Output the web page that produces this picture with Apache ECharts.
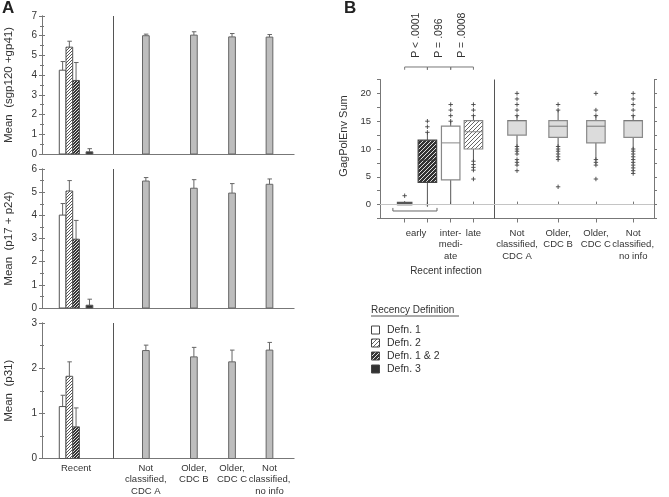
<!DOCTYPE html>
<html>
<head>
<meta charset="utf-8">
<script src="https://cdn.jsdelivr.net/npm/echarts@6/dist/echarts.min.js"></script>
<style>
  html, body { margin: 0; padding: 0; background: #fff; }
  #main { width: 669px; height: 497px; }
</style>
</head>
<body>
<div id="main"></div>
<script>
// ---- data ----
const defNames = ['Defn. 1', 'Defn. 2', 'Defn. 1 & 2', 'Defn. 3'];
const groupLabels = ['Recent', 'Not\nclassified,\nCDC A', 'Older,\nCDC B', 'Older,\nCDC C', 'Not\nclassified,\nno info'];
const boxLabels = ['early', 'inter-\nmedi-\nate', 'late', 'Not\nclassified,\nCDC A', 'Older,\nCDC B', 'Older,\nCDC C', 'Not\nclassified,\nno info'];
const yNames = ['Mean  (sgp120 +gp41)', 'Mean  (p17 + p24)', 'Mean  (p31)'];
const yMax = [7, 6, 3];

// recent group means per definition (Defn 1, 2, 1&2, 3) and top of error bar
const sgpMean = [4.25, 5.42, 3.73, 0.11];
const sgpErr  = [4.69, 5.72, 4.64, 0.27];
const p24Mean = [4.01, 5.05, 2.97, 0.12];
const p24Err  = [4.51, 5.50, 3.78, 0.38];
const p31Mean = [1.15, 1.82, 0.70, 0];
const p31Err  = [1.40, 2.14, 1.12, 0];
// older / not classified groups
const oldSgpMean = [6.00, 6.03, 5.94, 5.93];
const oldSgpErr  = [6.08, 6.20, 6.11, 6.06];
const oldP24Mean = [5.48, 5.17, 4.96, 5.34];
const oldP24Err  = [5.63, 5.54, 5.37, 5.57];
const oldP31Mean = [2.39, 2.25, 2.14, 2.40];
const oldP31Err  = [2.51, 2.46, 2.40, 2.57];

// panel B boxes: [low whisker, q1, median, q3, high whisker]
// recent order: Defn 3 (early), Defn 1&2 (early), Defn 1 (intermediate), Defn 2 (late)
const recentBox = [
  [0, 0, 0, 0.4, 0.6],
  [0, 4.0, 8.0, 11.6, 13.0],
  [0, 4.45, 11.1, 14.1, 15.0],
  [7.8, 10.0, 13.1, 15.1, 16.0]
];
const recentOut = [
  [1.6],
  [0, 13, 14, 15],
  [15, 16, 17, 18],
  [16, 17, 18, 7.8, 7.2, 6.7, 6.2, 4.6]
];
const olderBox = [
  [10.45, 12.5, 15.1, 15.1, 16.0],
  [10.45, 12.1, 14.1, 15.1, 17.0],
  [8.1, 11.1, 14.1, 15.1, 16.0],
  [10.0, 12.1, 15.1, 15.1, 16.0]
];
const olderOut = [
  [16, 17, 18, 19, 20, 10.45, 10.0, 9.6, 9.1, 8.1, 7.6, 7.1, 6.1],
  [17, 18, 10.45, 10.0, 9.6, 9.1, 8.6, 8.1, 3.2],
  [16, 17, 20, 8.1, 7.6, 7.1, 4.6],
  [16, 17, 18, 19, 20, 10.0, 9.6, 9.1, 8.6, 8.1, 7.6, 7.1, 6.6, 6.1, 5.6]
];
const pLabels = ['P < .0001', 'P = .096', 'P = .0008'];

// ---- layout ----
const aPos = [1.0, 3.05, 4.46, 5.58, 6.68];   // group centres, panel A x units
const aDiv = 2.09;
const recentSlot = [-2, -1, 0, 2];             // bar slot of each definition within "Recent"
const BAR_W = 0.197;
const bPos = [0.9, 1.73, 2.58, 3.41, 5.0, 6.5, 7.88, 9.24];
const bDiv = 4.16;
const BOX_W = 0.675;
const bLabelPos = [(bPos[0] + bPos[1]) / 2].concat(bPos.slice(2));
const FONT = 'Liberation Sans, Arial, sans-serif';
const TXT = '#333';

function hatch(bg, fg, n) {
  const c = document.createElement('canvas');
  c.width = n; c.height = n;
  const g = c.getContext('2d');
  g.fillStyle = bg; g.fillRect(0, 0, n, n);
  g.fillStyle = fg;
  for (let i = 0; i < n; i++) g.fillRect(i, n - 1 - i, 1, 1);
  return { image: c, repeat: 'repeat' };
}
const fillsA = ['#fff', hatch('#fff', '#555', 3), hatch('#333', '#ddd', 3), '#333'];
const fillsB = ['#fff', hatch('#fff', '#666', 4), hatch('#333', '#ddd', 4), '#333'];

function nearest(arr, v) {
  let k = 0;
  arr.forEach((a, i) => { if (Math.abs(a - v) < Math.abs(arr[k] - v)) k = i; });
  return k;
}

function barRender(fill, stroke) {
  return function (params, api) {
    const x = api.value(0) + api.value(3) * BAR_W;
    const y = api.value(1), e = api.value(2);
    if (!(y > 0)) return null;
    const p0 = api.coord([x - BAR_W / 2, y]);
    const p1 = api.coord([x + BAR_W / 2, 0]);
    const c0 = api.coord([x, y]);
    const c1 = api.coord([x, e]);
    const ls = { stroke: '#666', lineWidth: 1 };
    return {
      type: 'group',
      children: [
        { type: 'line', shape: { x1: c0[0], y1: c0[1], x2: c1[0], y2: c1[1] }, style: ls },
        { type: 'line', shape: { x1: c1[0] - 2, y1: c1[1], x2: c1[0] + 2.5, y2: c1[1] }, style: ls },
        { type: 'rect', shape: { x: p0[0], y: p0[1], width: p1[0] - p0[0], height: p1[1] - p0[1] },
          style: { fill: fill, stroke: stroke, lineWidth: 1 } }
      ]
    };
  };
}

function boxRender(fill, stroke, medColor, widthScale) {
  return function (params, api) {
    const x = api.value(0);
    const w = BOX_W * (widthScale || 1);
    const lo = api.coord([x, api.value(1)]);
    const q1 = api.coord([x, api.value(2)]);
    const md = api.coord([x, api.value(3)]);
    const q3 = api.coord([x, api.value(4)]);
    const hi = api.coord([x, api.value(5)]);
    const l = api.coord([x - w / 2, 0])[0];
    const r = api.coord([x + w / 2, 0])[0];
    const ws = { stroke: '#555', lineWidth: 1 };
    return {
      type: 'group',
      children: [
        { type: 'line', shape: { x1: lo[0], y1: lo[1], x2: q1[0], y2: q1[1] }, style: ws },
        { type: 'line', shape: { x1: q3[0], y1: q3[1], x2: hi[0], y2: hi[1] }, style: ws },
        { type: 'rect', shape: { x: l, y: q3[1], width: r - l, height: Math.max(q1[1] - q3[1], 1.5) },
          style: { fill: fill, stroke: stroke, lineWidth: 1.2 } },
        { type: 'line', shape: { x1: l, y1: md[1], x2: r, y2: md[1] }, style: { stroke: medColor, lineWidth: 1 } }
      ]
    };
  };
}

function plusRender(params, api) {
  const p = api.coord([api.value(0), api.value(1)]);
  const s = { stroke: '#444', lineWidth: 0.9 };
  return {
    type: 'group',
    children: [
      { type: 'line', shape: { x1: p[0] - 2.2, y1: p[1], x2: p[0] + 2.2, y2: p[1] }, style: s },
      { type: 'line', shape: { x1: p[0], y1: p[1] - 2.2, x2: p[0], y2: p[1] + 2.2 }, style: s }
    ]
  };
}

// brackets above panel B and under the early boxes
const BR_Y = 24.75, BR_TICK = 24.25, P_TXT_Y = 26.4;
function bracketRender(params, api) {
  const i = params.dataIndex;
  const a = api.coord([api.value(0), BR_Y]);
  const b = api.coord([api.value(1), BR_Y]);
  const t = api.coord([api.value(0), BR_TICK]);
  const m = api.coord([(api.value(0) + api.value(1)) / 2, P_TXT_Y]);
  const s = { stroke: '#777', lineWidth: 1 };
  return {
    type: 'group',
    children: [
      { type: 'line', shape: { x1: a[0], y1: a[1], x2: b[0], y2: b[1] }, style: s },
      { type: 'line', shape: { x1: a[0], y1: a[1], x2: a[0], y2: t[1] }, style: s },
      { type: 'line', shape: { x1: b[0], y1: b[1], x2: b[0], y2: t[1] }, style: s },
      { type: 'text', x: m[0], y: m[1], rotation: Math.PI / 2,
        style: { text: pLabels[i], fill: TXT, font: '10.5px ' + FONT, align: 'left', verticalAlign: 'middle' } }
    ]
  };
}
function earlyBracketRender(params, api) {
  const a = api.coord([api.value(0), -1.15]);
  const b = api.coord([api.value(1), -1.15]);
  const t = api.coord([0, -0.6]);
  const s = { stroke: '#666', lineWidth: 1 };
  return {
    type: 'group',
    children: [
      { type: 'line', shape: { x1: a[0], y1: a[1], x2: b[0], y2: b[1] }, style: s },
      { type: 'line', shape: { x1: a[0], y1: a[1], x2: a[0], y2: t[1] }, style: s },
      { type: 'line', shape: { x1: b[0], y1: b[1], x2: b[0], y2: t[1] }, style: s }
    ]
  };
}

// ---- axes ----
const grids = [
  { left: 42, width: 252, top: 16, height: 138 },
  { left: 42, width: 252, top: 169, height: 139 },
  { left: 42, width: 252, top: 323, height: 139 },
  { left: 380, width: 274, top: 79.5, height: 139 }
];
const frame = '#777';
const xAxes = [], yAxes = [];
for (let g = 0; g < 3; g++) {
  xAxes.push({
    gridIndex: g, type: 'value', min: 0, max: 7.4, position: 'bottom',
    axisLine: { show: true, onZero: false, lineStyle: { color: '#c4c4c4' } },
    axisTick: { show: false }, splitLine: { show: false }, axisLabel: { show: false }
  });
  xAxes.push({
    gridIndex: g, type: 'value', min: 0, max: 7.4, position: 'top',
    axisLine: { show: true, lineStyle: { color: frame } },
    axisTick: { show: true, customValues: aPos, length: 3, lineStyle: { color: frame } },
    splitLine: { show: false }, axisLabel: { show: false }
  });
  const yBase = {
    gridIndex: g, type: 'value', min: 0, max: yMax[g], interval: 1,
    axisLine: { show: true, lineStyle: { color: frame } },
    axisTick: { show: true, length: 3, lineStyle: { color: frame } },
    minorTick: { show: true, splitNumber: 2, length: 2, lineStyle: { color: frame } },
    splitLine: { show: false }
  };
  yAxes.push(Object.assign({}, yBase, {
    position: 'left',
    axisLabel: { color: TXT, fontSize: 10, fontFamily: FONT, margin: 5 },
    name: yNames[g], nameLocation: 'middle', nameGap: 27,
    nameTextStyle: { color: TXT, fontSize: 11.5, fontFamily: FONT }
  }));
  yAxes.push(Object.assign({}, yBase, { position: 'right', axisLabel: { show: false } }));
}
// panel B
xAxes.push({
  gridIndex: 3, type: 'value', min: 0, max: 10, position: 'bottom',
  axisLine: { show: true, onZero: false, lineStyle: { color: frame } },
  axisTick: { show: true, customValues: bPos, length: 4, lineStyle: { color: frame } },
  splitLine: { show: false },
  axisLabel: {
    show: true, customValues: bLabelPos, margin: 9, color: TXT, fontSize: 9.5, fontFamily: FONT, lineHeight: 11.5,
    showMinLabel: true, showMaxLabel: true, hideOverlap: false,
    formatter: v => boxLabels[nearest(bLabelPos, v)]
  }
});
xAxes.push({
  gridIndex: 3, type: 'value', min: 0, max: 10, position: 'top',
  axisLine: { show: true, lineStyle: { color: frame } },
  axisTick: { show: true, customValues: bPos, length: 3, lineStyle: { color: frame } },
  splitLine: { show: false }, axisLabel: { show: false }
});
// panel A category labels, split over two label-only axes so none get hidden as overlapping
[[0, 2, 4], [1, 3]].forEach(set => {
  const vals = set.map(k => aPos[k]);
  xAxes.push({
    gridIndex: 2, type: 'value', min: 0, max: 7.4, position: 'bottom',
    axisLine: { show: false }, axisTick: { show: false }, splitLine: { show: false },
    axisLabel: {
      show: true, customValues: vals, margin: 4, color: TXT, fontSize: 9.5, fontFamily: FONT, lineHeight: 11.5,
      showMinLabel: true, showMaxLabel: true,
      formatter: v => groupLabels[nearest(aPos, v)]
    }
  });
});
const yB = {
  gridIndex: 3, type: 'value', min: -2.5, max: 22.5, interval: 2.5,
  axisLine: { show: true, onZero: false, lineStyle: { color: frame } },
  axisTick: { show: true, length: 3, lineStyle: { color: frame } },
  splitLine: { show: false }
};
yAxes.push(Object.assign({}, yB, {
  position: 'left',
  axisLabel: { color: TXT, fontSize: 9.5, fontFamily: FONT, margin: 9,
    formatter: v => (v >= 0 && v % 5 === 0) ? String(v) : '' },
  name: 'GagPolEnv Sum', nameLocation: 'middle', nameGap: 31,
  nameTextStyle: { color: TXT, fontSize: 11, fontFamily: FONT, padding: [0, 0, 0, 26] }
}));
yAxes.push(Object.assign({}, yB, { position: 'right', axisLabel: { show: false } }));

// ---- series ----
const series = [];
const recentMeans = [[sgpMean, sgpErr], [p24Mean, p24Err], [p31Mean, p31Err]];
const olderMeans = [[oldSgpMean, oldSgpErr], [oldP24Mean, oldP24Err], [oldP31Mean, oldP31Err]];
for (let g = 0; g < 3; g++) {
  defNames.forEach((name, d) => {
    series.push({
      type: 'custom', name: name, xAxisIndex: g * 2, yAxisIndex: g * 2,
      renderItem: barRender(fillsA[d], '#555'),
      data: [[aPos[0], recentMeans[g][0][d], recentMeans[g][1][d], recentSlot[d]]]
    });
  });
  series.push({
    type: 'custom', name: 'older', xAxisIndex: g * 2, yAxisIndex: g * 2,
    renderItem: barRender('#bdbdbd', '#666'),
    data: olderMeans[g][0].map((m, k) => [aPos[k + 1], m, olderMeans[g][1][k], 0]),
    markLine: {
      silent: true, symbol: 'none', label: { show: false },
      lineStyle: { color: '#555', type: 'solid', width: 1 },
      data: [{ xAxis: aDiv }]
    }
  });
}
// panel B boxes
const recentBoxDef = [3, 2, 0, 1]; // definition index of each recent box
const boxStroke = ['#888', '#888', '#444', '#555'];
const medColor = ['#888', '#888', '#333', '#555'];
recentBox.forEach((b, i) => {
  const d = recentBoxDef[i];
  series.push({
    type: 'custom', name: defNames[d], xAxisIndex: 6, yAxisIndex: 6,
    renderItem: boxRender(d === 3 ? '#555' : fillsB[d], boxStroke[d], medColor[d], d === 3 ? 0.78 : 1),
    data: [[bPos[i]].concat(b)]
  });
});
series.push({
  type: 'custom', name: 'older', xAxisIndex: 6, yAxisIndex: 6,
  renderItem: boxRender('#dcdcdc', '#8a8a8a', '#777'),
  data: olderBox.map((b, k) => [bPos[k + 4]].concat(b)),
  markLine: {
    silent: true, symbol: 'none', label: { show: false },
    data: [
      { xAxis: bDiv, lineStyle: { color: '#555', type: 'solid', width: 1 } },
      { yAxis: 0, lineStyle: { color: '#c4c4c4', type: 'solid', width: 1.2 } }
    ]
  }
});
const outPts = [];
recentOut.forEach((arr, i) => arr.forEach(v => outPts.push([bPos[i], v])));
olderOut.forEach((arr, k) => arr.forEach(v => outPts.push([bPos[k + 4], v])));
series.push({ type: 'custom', name: 'outliers', xAxisIndex: 6, yAxisIndex: 6, renderItem: plusRender, data: outPts });
series.push({
  type: 'custom', name: 'p', xAxisIndex: 6, yAxisIndex: 6, clip: false, renderItem: bracketRender,
  data: [[bPos[0], bPos[1]], [bPos[1], bPos[2]], [bPos[2], bPos[3]]]
});
series.push({
  type: 'custom', name: 'early', xAxisIndex: 6, yAxisIndex: 6, renderItem: earlyBracketRender,
  data: [[bPos[0] - 0.43, bPos[1] + 0.35]]
});

// ---- legend & panel letters ----
const graphic = [
  { type: 'text', left: 2, top: 0, style: { text: 'A', fill: '#222', font: 'bold 17px ' + FONT } },
  { type: 'text', left: 344, top: 0, style: { text: 'B', fill: '#222', font: 'bold 17px ' + FONT } },
  { type: 'text', x: 446, y: 271, style: { text: 'Recent infection', fill: TXT, font: '10px ' + FONT, align: 'center', verticalAlign: 'middle' } },
  { type: 'text', x: 371, y: 310.5, style: { text: 'Recency Definition', fill: TXT, font: '10px ' + FONT, verticalAlign: 'middle' } },
  { type: 'line', shape: { x1: 371, y1: 316, x2: 459, y2: 316 }, style: { stroke: '#555', lineWidth: 1 } }
];
defNames.forEach((name, d) => {
  const cy = 330 + d * 13;
  graphic.push({ type: 'rect', shape: { x: 371.5, y: cy - 4, width: 8, height: 8 }, style: { fill: fillsB[d], stroke: '#444', lineWidth: 1 } });
  graphic.push({ type: 'text', x: 387, y: cy, style: { text: name, fill: TXT, font: '10.5px ' + FONT, verticalAlign: 'middle' } });
});

const chart = echarts.init(document.getElementById('main'), null, { renderer: 'canvas' });
chart.setOption({
  animation: false,
  backgroundColor: '#fff',
  grid: grids,
  xAxis: xAxes,
  yAxis: yAxes,
  series: series,
  graphic: graphic
});
</script>
</body>
</html>
